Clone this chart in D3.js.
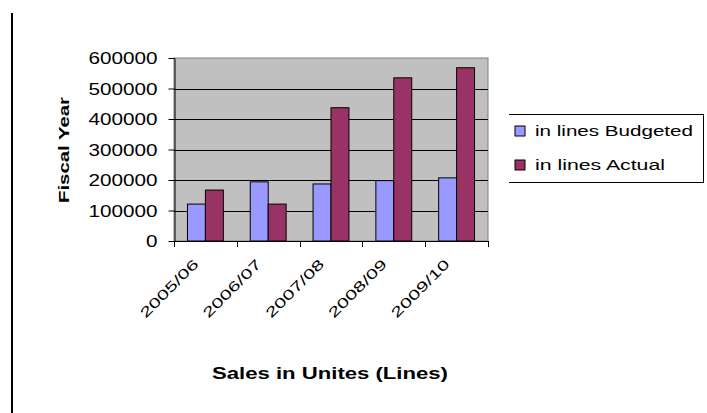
<!DOCTYPE html>
<html>
<head>
<meta charset="utf-8">
<script src="https://cdn.jsdelivr.net/npm/d3@7"></script>
<style>
  html, body { margin: 0; padding: 0; background: #fff; }
  svg { display: block; font-family: "Liberation Sans", Arial, sans-serif; }
</style>
</head>
<body>
<svg id="chart" width="707" height="413"></svg>
<script>
// Fiscal years and unit sales (lines) per year
const years = ["2005/06", "2006/07", "2007/08", "2008/09", "2009/10"];
const budgeted = [121000, 194000, 187000, 198000, 207000];
const actual = [167000, 121000, 437000, 535000, 568000];
const seriesNames = ["in lines Budgeted", "in lines Actual"];
const yTicks = [0, 100000, 200000, 300000, 400000, 500000, 600000];

const colors = ["#9999ff", "#993366"];
const svg = d3.select("#chart");

const plot = { left: 174, right: 488, top: 58, bottom: 241 };

const x = d3.scaleBand().domain(years).range([plot.left, plot.right]).padding(0);
const barW = x.bandwidth() / 3.5;
const y = d3.scaleLinear().domain([0, 600000]).range([plot.bottom, plot.top]);

// left frame line
svg.append("line").attr("x1", 12).attr("x2", 12).attr("y1", 13).attr("y2", 413)
  .attr("stroke", "#000").attr("stroke-width", 2);

// plot area
svg.append("rect")
  .attr("x", plot.left).attr("y", plot.top)
  .attr("width", plot.right - plot.left).attr("height", plot.bottom - plot.top)
  .attr("fill", "#c0c0c0").attr("stroke", "#808080").attr("stroke-width", 1);

// gridlines
svg.append("g").selectAll("line")
  .data(yTicks.filter(t => t > 0 && t < 600000))
  .join("line")
  .attr("x1", plot.left).attr("x2", plot.right)
  .attr("y1", d => Math.round(y(d)) + 0.5).attr("y2", d => Math.round(y(d)) + 0.5)
  .attr("stroke", "#000").attr("stroke-width", 1);

// bars
const series = [budgeted, actual];
series.forEach((vals, si) => {
  svg.append("g").selectAll("rect")
    .data(vals)
    .join("rect")
    .attr("x", (d, i) => x(years[i]) + barW * 0.75 + si * barW)
    .attr("y", d => y(d))
    .attr("width", barW)
    .attr("height", d => y(0) - y(d))
    .attr("fill", colors[si])
    .attr("stroke", "#000").attr("stroke-width", 1);
});

// y axis
const yAxis = d3.axisLeft(y).tickValues(yTicks).tickSize(6).tickSizeOuter(0).tickPadding(11)
  .tickFormat(d3.format("d"));
const gy = svg.append("g").attr("transform", `translate(${plot.left + 0.5},0)`).call(yAxis);
gy.selectAll("path, line").attr("stroke", "#000");
gy.selectAll("text").attr("font-size", 16).attr("fill", "#000")
  .attr("dy", "0.35em")
  .each(function(d) {
    const n = String(d).length;
    d3.select(this).attr("textLength", n * 11.5).attr("lengthAdjust", "spacingAndGlyphs");
  });

// x axis
const xEdges = d3.range(years.length + 1).map(i => plot.left + i * x.bandwidth());
svg.append("line").attr("x1", plot.left).attr("x2", plot.right)
  .attr("y1", plot.bottom + 0.5).attr("y2", plot.bottom + 0.5).attr("stroke", "#000");
svg.append("g").selectAll("line").data(xEdges).join("line")
  .attr("x1", d => Math.round(d) + 0.5).attr("x2", d => Math.round(d) + 0.5)
  .attr("y1", plot.bottom).attr("y2", plot.bottom + 6).attr("stroke", "#000");

svg.append("g").selectAll("text").data(years).join("text")
  .attr("transform", d => `translate(${x(d) + x.bandwidth() / 2 - 6},${plot.bottom + 24}) rotate(-45)`)
  .attr("text-anchor", "end")
  .attr("font-size", 14)
  .attr("textLength", 76).attr("lengthAdjust", "spacingAndGlyphs")
  .text(d => d);

// axis titles
svg.append("text")
  .attr("transform", "translate(69,150) rotate(-90)")
  .attr("text-anchor", "middle").attr("font-weight", "bold").attr("font-size", 15)
  .attr("textLength", 106).attr("lengthAdjust", "spacingAndGlyphs")
  .text("Fiscal Year");

svg.append("text")
  .attr("x", 330).attr("y", 379)
  .attr("text-anchor", "middle").attr("font-weight", "bold").attr("font-size", 16)
  .attr("textLength", 236).attr("lengthAdjust", "spacingAndGlyphs")
  .text("Sales in Unites (Lines)");

// legend
const lg = svg.append("g");
lg.append("line").attr("x1", 509).attr("x2", 703).attr("y1", 114.5).attr("y2", 114.5).attr("stroke", "#000");
lg.append("line").attr("x1", 509).attr("x2", 703).attr("y1", 182.5).attr("y2", 182.5).attr("stroke", "#000");
lg.append("line").attr("x1", 703.5).attr("x2", 703.5).attr("y1", 114).attr("y2", 183).attr("stroke", "#000");
const items = lg.selectAll("g.item").data(seriesNames).join("g")
  .attr("transform", (d, i) => `translate(515,${131 + i * 34})`);
items.append("rect").attr("x", 0).attr("y", -5).attr("width", 10).attr("height", 10)
  .attr("fill", (d, i) => colors[i]).attr("stroke", "#000");
items.append("text").attr("x", 20).attr("y", 0).attr("dy", "0.36em")
  .attr("font-size", 15)
  .attr("textLength", (d, i) => i === 0 ? 158 : 130).attr("lengthAdjust", "spacingAndGlyphs")
  .text(d => d);
</script>
</body>
</html>
